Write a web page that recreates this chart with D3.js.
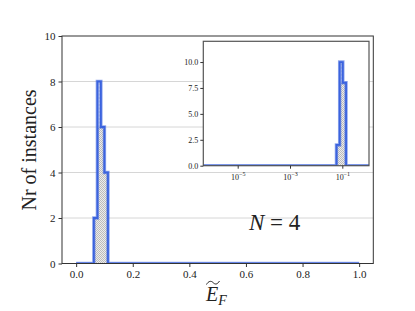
<!DOCTYPE html>
<html>
<head>
<meta charset="utf-8">
<script src="https://cdn.jsdelivr.net/npm/d3@7"></script>
<style>
  body { margin: 0; background: #fff; }
  svg text { font-family: "Liberation Serif", "DejaVu Serif", serif; fill: #222; }
</style>
</head>
<body>
<div id="chart"></div>
<script>
'use strict';

// main histogram (80 bins over 0..1, only non-empty ones listed)
const mainRange = [0, 1];
const mainEdges = [0.0625, 0.075, 0.0875, 0.1, 0.1125];
const mainCounts = [2, 8, 6, 4];
const mainHatched = [2, 6, 6, 4];
const mainXTicks = [0, 0.2, 0.4, 0.6, 0.8, 1.0];
const mainYTicks = [0, 2, 4, 6, 8, 10];

// inset histogram, log bins
const insetEdges = [0.0596, 0.0791, 0.1047, 0.139];
const insetCounts = [2, 10, 8];
const insetHatched = [2, 8, 8];
const insetXTicks = [1e-5, 1e-3, 1e-1];
const insetXLabels = ['5', '3', '1'];
const insetYTicks = [0, 2.5, 5, 7.5, 10];

const width = 415, height = 311;
const blue = '#3b63de';

const svg = d3.select('#chart').append('svg')
    .attr('width', width)
    .attr('height', height);

const defs = svg.append('defs');
const pat = defs.append('pattern')
    .attr('id', 'checker')
    .attr('patternUnits', 'userSpaceOnUse')
    .attr('width', 2).attr('height', 2);
pat.append('rect').attr('width', 2).attr('height', 2).attr('fill', '#ececec');
pat.append('rect').attr('width', 1).attr('height', 1).attr('fill', '#bcbcbc');
pat.append('rect').attr('x', 1).attr('y', 1).attr('width', 1).attr('height', 1).attr('fill', '#bcbcbc');

// ---- main axes
const x = d3.scaleLinear().domain([-0.05, 1.05]).range([62, 373.3]);
const y = d3.scaleLinear().domain([0, 10]).range([263.5, 36]);

defs.append('clipPath').attr('id', 'clipMain')
    .append('rect')
    .attr('x', x.range()[0]).attr('y', y.range()[1])
    .attr('width', x.range()[1] - x.range()[0])
    .attr('height', y.range()[0] - y.range()[1]);

// gridlines
svg.append('g')
    .selectAll('line')
    .data(mainYTicks.slice(1, -1))
    .join('line')
    .attr('x1', x.range()[0]).attr('x2', x.range()[1])
    .attr('y1', d => y(d)).attr('y2', d => y(d))
    .attr('stroke', '#d6d6d6')
    .attr('stroke-width', 1);

function stepPoints(edges, counts, lo, hi) {
    let pts = [[lo, 0], [edges[0], 0]];
    counts.forEach((c, i) => {
        pts.push([edges[i], c]);
        pts.push([edges[i + 1], c]);
    });
    pts.push([edges[edges.length - 1], 0]);
    pts.push([hi, 0]);
    return pts;
}

function drawHist(g, sx, sy, edges, counts, hatched, lo, hi, clipId, isLog) {
    let layer = g.append('g').attr('clip-path', `url(#${clipId})`);

    // hatched fill
    let fillPts = stepPoints(edges, hatched, edges[0], edges[edges.length - 1]);
    layer.append('path')
        .attr('d', d3.line().x(d => sx(d[0])).y(d => sy(d[1]))(fillPts) + 'Z')
        .attr('fill', 'url(#checker)')
        .attr('stroke', 'none');

    // white dashed line where the fill stops short of the outline
    counts.forEach((c, i) => {
        if (hatched[i] < c) {
            let mid = isLog ? Math.sqrt(edges[i] * edges[i + 1]) : (edges[i] + edges[i + 1]) / 2;
            layer.append('line')
                .attr('x1', sx(mid)).attr('x2', sx(mid))
                .attr('y1', sy(hatched[i])).attr('y2', sy(c))
                .attr('stroke', '#cfcfcf')
                .attr('stroke-width', 0.8)
                .attr('stroke-dasharray', '2,1.5');
        }
    });

    let pts = stepPoints(edges, counts, lo, hi);
    let line = d3.line().x(d => sx(d[0])).y(d => sy(d[1]));
    layer.append('path')
        .attr('d', line(pts))
        .attr('fill', 'none')
        .attr('stroke', blue)
        .attr('stroke-opacity', 0.55)
        .attr('stroke-width', 3.4);
    layer.append('path')
        .attr('d', line(pts))
        .attr('fill', 'none')
        .attr('stroke', blue)
        .attr('stroke-width', 1.8);
}

drawHist(svg, x, y, mainEdges, mainCounts, mainHatched, mainRange[0], mainRange[1], 'clipMain', false);

// main spines
svg.append('rect')
    .attr('x', x.range()[0]).attr('y', y.range()[1])
    .attr('width', x.range()[1] - x.range()[0])
    .attr('height', y.range()[0] - y.range()[1])
    .attr('fill', 'none')
    .attr('stroke', '#333')
    .attr('stroke-width', 1);

const xAxis = svg.append('g')
    .attr('transform', `translate(0, ${y.range()[0]})`)
    .call(d3.axisBottom(x).tickValues(mainXTicks).tickFormat(d3.format('.1f')).tickSize(3.5).tickPadding(3));
const yAxis = svg.append('g')
    .attr('transform', `translate(${x.range()[0]}, 0)`)
    .call(d3.axisLeft(y).tickValues(mainYTicks).tickFormat(d3.format('d')).tickSize(3.5).tickPadding(3));

[xAxis, yAxis].forEach(a => {
    a.select('.domain').remove();
    a.selectAll('.tick line').attr('stroke', '#333');
    a.selectAll('.tick text')
        .style('font-family', '"Liberation Serif", serif')
        .style('font-size', '11px')
        .attr('fill', '#222');
});

// axis titles
svg.append('text')
    .attr('transform', 'translate(36, 150) rotate(-90)')
    .attr('text-anchor', 'middle')
    .style('font-size', '20px')
    .text('Nr of instances');

const xl = svg.append('text')
    .attr('x', 206)
    .attr('y', 301)
    .style('font-size', '20px');
xl.append('tspan').style('font-style', 'italic').text('E');
xl.append('tspan').style('font-style', 'italic').style('font-size', '14px').attr('dy', 4).text('F');
// wide tilde over the E
svg.append('path')
    .attr('d', 'M206.5,284.5 C208.5,281 211,280.5 213,282.5 S217,285 219.5,281')
    .attr('fill', 'none')
    .attr('stroke', '#222')
    .attr('stroke-width', 1);

const nl = svg.append('text')
    .attr('x', 249)
    .attr('y', 230)
    .style('font-size', '23px');
nl.append('tspan').style('font-style', 'italic').text('N');
nl.append('tspan').text(' = 4');

// ---- inset
const ix = d3.scaleLog().domain([Math.pow(10, -6.315), Math.pow(10, 0.02)]).range([203.3, 369]);
const iy = d3.scaleLinear().domain([0, 12]).range([165.7, 41.3]);

defs.append('clipPath').attr('id', 'clipInset')
    .append('rect')
    .attr('x', ix.range()[0]).attr('y', iy.range()[1])
    .attr('width', ix.range()[1] - ix.range()[0])
    .attr('height', iy.range()[0] - iy.range()[1]);

svg.append('rect')
    .attr('x', ix.range()[0]).attr('y', iy.range()[1])
    .attr('width', ix.range()[1] - ix.range()[0])
    .attr('height', iy.range()[0] - iy.range()[1])
    .attr('fill', '#fff');

drawHist(svg, ix, iy, insetEdges, insetCounts, insetHatched, ix.domain()[0], ix.domain()[1], 'clipInset', true);

svg.append('rect')
    .attr('x', ix.range()[0]).attr('y', iy.range()[1])
    .attr('width', ix.range()[1] - ix.range()[0])
    .attr('height', iy.range()[0] - iy.range()[1])
    .attr('fill', 'none')
    .attr('stroke', '#555')
    .attr('stroke-width', 1.2);

const ixAxis = svg.append('g')
    .attr('transform', `translate(0, ${iy.range()[0]})`)
    .call(d3.axisBottom(ix).tickValues(insetXTicks).tickFormat('').tickSize(3).tickPadding(2));
const iyAxis = svg.append('g')
    .attr('transform', `translate(${ix.range()[0]}, 0)`)
    .call(d3.axisLeft(iy).tickValues(insetYTicks).tickFormat(d3.format('.1f')).tickSize(3).tickPadding(2));

[ixAxis, iyAxis].forEach(a => {
    a.select('.domain').remove();
    a.selectAll('.tick line').attr('stroke', '#333');
    a.selectAll('.tick text')
        .style('font-family', '"Liberation Serif", serif')
        .style('font-size', '8px')
        .attr('fill', '#222');
});

// log tick labels as 10^-n
ixAxis.selectAll('.tick').each(function (d, i) {
    let t = d3.select(this).append('text')
        .attr('y', 14)
        .attr('text-anchor', 'middle')
        .style('font-size', '8px')
        .attr('fill', '#222');
    t.append('tspan').text('10');
    t.append('tspan').attr('dy', -3.5).style('font-size', '6px').text('\u2212' + insetXLabels[i]);
});
</script>
</body>
</html>
